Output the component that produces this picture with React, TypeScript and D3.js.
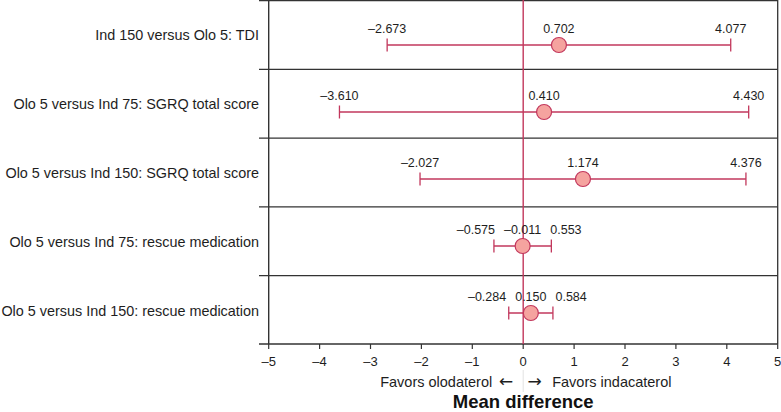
import React from "react";
import * as d3 from "d3";

const categories = [
  "Ind 150 versus Olo 5: TDI",
  "Olo 5 versus Ind 75: SGRQ total score",
  "Olo 5 versus Ind 150: SGRQ total score",
  "Olo 5 versus Ind 75: rescue medication",
  "Olo 5 versus Ind 150: rescue medication",
];
const means = [0.702, 0.41, 1.174, -0.011, 0.15];
const lowers = [-2.673, -3.61, -2.027, -0.575, -0.284];
const uppers = [4.077, 4.43, 4.376, 0.553, 0.584];
const xTicks = [-5, -4, -3, -2, -1, 0, 1, 2, 3, 4, 5];
const leftNote = "Favors olodaterol";
const rightNote = "Favors indacaterol";
const leftArrow = "\u2190";
const rightArrow = "\u2192";
const axisTitle = "Mean difference";

const W = 781;
const H = 412;
const FONT = "'Liberation Sans', Arial, sans-serif";
const ARROW_FONT = "'DejaVu Sans', sans-serif";
const RED = "#c2375c";
const FILL = "#f5a39f";
const INK = "#1e1e1e";
const LINE = "#333333";

const fmt = (v: number) => v.toFixed(3).replace("-", "\u2013");
const fmtTick = (v: number) => String(v).replace("-", "\u2013");

let ctx: CanvasRenderingContext2D | null = null;
function textW(s: string, size: number) {
  if (typeof document === "undefined") return s.length * size * 0.55;
  if (!ctx) ctx = document.createElement("canvas").getContext("2d");
  if (!ctx) return s.length * size * 0.55;
  ctx.font = `${size}px ${FONT}`;
  return ctx.measureText(s).width;
}

export default function App() {
  const x = d3.scaleLinear().domain([-5, 5]).range([268.7, 777.7]);
  const band = d3
    .scaleBand<number>()
    .domain(categories.map((_, i) => i))
    .range([0, 344]);
  const yBar = d3
    .scalePoint<number>()
    .domain(categories.map((_, i) => i))
    .range([45, 313]);
  const axisY = 344;
  const valSize = 12.5;
  const gap = 9;
  const x0 = x(0);

  return (
    <svg
      width={W}
      height={H}
      style={{ position: "absolute", left: 0, top: 0, background: "#fff" }}
      fontFamily={FONT}
    >
      {/* row separators */}
      {categories.map((_, i) => (
        <line
          key={"sep" + i}
          x1={259}
          x2={777.7}
          y1={band(i)! + 0.5}
          y2={band(i)! + 0.5}
          stroke={LINE}
          strokeWidth={1.3}
        />
      ))}
      {/* left and right borders */}
      <line x1={x(-5)} x2={x(-5)} y1={0} y2={axisY} stroke={LINE} strokeWidth={1.4} />
      <line x1={x(5)} x2={x(5)} y1={0} y2={axisY} stroke={LINE} strokeWidth={1.3} />
      {/* x axis */}
      <line x1={259} x2={x(5)} y1={axisY} y2={axisY} stroke={LINE} strokeWidth={1.4} />
      {xTicks.map((t) => (
        <g key={"t" + t}>
          <line x1={x(t)} x2={x(t)} y1={axisY} y2={axisY + 5} stroke={LINE} strokeWidth={1.2} />
          <text
            x={x(t)}
            y={axisY + 22}
            textAnchor="middle"
            fontSize={13}
            fill={INK}
          >
            {fmtTick(t)}
          </text>
        </g>
      ))}
      {/* faint divider below zero */}
      <line x1={x0} x2={x0} y1={axisY + 26} y2={392} stroke="#e2e2e2" strokeWidth={1} />
      {/* zero line */}
      <line x1={x0} x2={x0} y1={0} y2={axisY} stroke={RED} strokeWidth={1.4} />
      {/* category labels */}
      {categories.map((c, i) => (
        <text
          key={"c" + i}
          x={259}
          y={band(i)! + band.bandwidth() / 2 + 1}
          dy="0.35em"
          textAnchor="end"
          fontSize={14.4}
          fill={INK}
        >
          {c}
        </text>
      ))}
      {/* error bars */}
      {categories.map((_, i) => {
        const y = yBar(i)!;
        const xl = x(lowers[i]);
        const xm = x(means[i]);
        const xu = x(uppers[i]);
        const sl = fmt(lowers[i]);
        const sm = fmt(means[i]);
        const su = fmt(uppers[i]);
        const wl = textW(sl, valSize);
        const wm = textW(sm, valSize);
        const wu = textW(su, valSize);
        const cl = Math.min(xl, xm - wm / 2 - gap - wl / 2);
        const cu = Math.max(xu, xm + wm / 2 + gap + wu / 2);
        const ly = y - 12;
        return (
          <g key={"e" + i}>
            <line x1={xl} x2={xu} y1={y} y2={y} stroke={RED} strokeWidth={1.3} />
            <line x1={xl} x2={xl} y1={y - 6.5} y2={y + 6.5} stroke={RED} strokeWidth={1.3} />
            <line x1={xu} x2={xu} y1={y - 6.5} y2={y + 6.5} stroke={RED} strokeWidth={1.3} />
            <circle cx={xm} cy={y} r={7.5} fill={FILL} stroke={RED} strokeWidth={1.2} />
            <text x={cl} y={ly} textAnchor="middle" fontSize={valSize} fill={INK}>
              {sl}
            </text>
            <text x={xm} y={ly} textAnchor="middle" fontSize={valSize} fill={INK}>
              {sm}
            </text>
            <text x={cu} y={ly} textAnchor="middle" fontSize={valSize} fill={INK}>
              {su}
            </text>
          </g>
        );
      })}
      {/* notes */}
      <text x={x0 - 31} y={387} textAnchor="end" fontSize={14.5} fill={INK}>
        {leftNote}
      </text>
      <text
        x={x0 - 17}
        y={387}
        textAnchor="middle"
        fontFamily={ARROW_FONT}
        fontSize={17}
        fill={INK}
      >
        {leftArrow}
      </text>
      <text
        x={x0 + 11.5}
        y={387}
        textAnchor="middle"
        fontFamily={ARROW_FONT}
        fontSize={17}
        fill={INK}
      >
        {rightArrow}
      </text>
      <text x={x0 + 29} y={387} textAnchor="start" fontSize={14.5} fill={INK}>
        {rightNote}
      </text>
      <text
        x={x0}
        y={408}
        textAnchor="middle"
        fontSize={18.5}
        fontWeight="bold"
        fill="#111"
      >
        {axisTitle}
      </text>
    </svg>
  );
}
